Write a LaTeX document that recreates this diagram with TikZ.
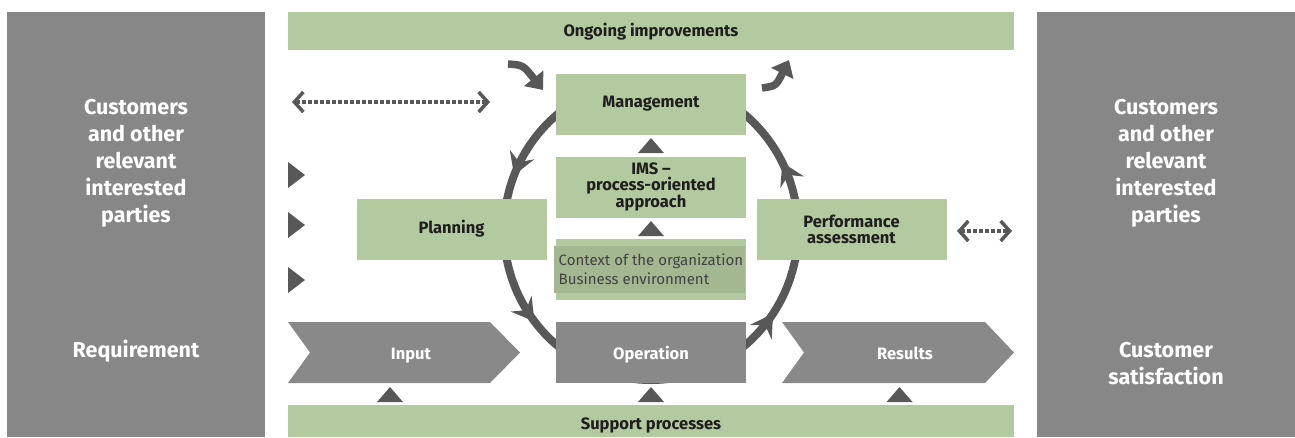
\documentclass[tikz,border=0pt]{standalone}
\usepackage{fontspec}
\setmainfont{Fira Sans}
\usetikzlibrary{arrows.meta,decorations.markings,calc}
\definecolor{panelgray}{HTML}{878787}
\definecolor{flowgray}{HTML}{898989}
\definecolor{leaf}{HTML}{B3C9A0}
\definecolor{leafdark}{HTML}{A3B790}
\definecolor{ink}{HTML}{585858}
\definecolor{txt}{HTML}{1E1E1E}
\tikzset{ringtip/.tip={Stealth[length=22pt,width=26pt,inset=8pt]}}
\begin{document}
\begin{tikzpicture}[x=1pt,y=-1pt,
  panel/.style={fill=panelgray,draw=none},
  panellabel/.style={text=white,font=\fontsize{21.5}{27}\selectfont\bfseries,align=center},
  greenbox/.style={fill=leaf,draw=none,minimum width=190pt,minimum height=61pt,inner sep=0pt,
    text=txt,font=\fontsize{16.5}{16}\selectfont\bfseries,align=center},
  graybox/.style={fill=flowgray,draw=none,minimum width=190pt,minimum height=61pt,inner sep=0pt},
  flowlabel/.style={text=white,font=\fontsize{16.5}{16}\selectfont\bfseries,anchor=base,inner sep=0pt},
  barlabel/.style={text=txt,font=\fontsize{16.5}{16}\selectfont\bfseries},
  uptri/.style={fill=ink},
  ring/.style={draw=ink,line width=8pt},
  dotline/.style={draw=ink,line width=3.5pt,dash pattern=on 3.5pt off 2.5pt,
    {Straight Barb[length=9pt,width=20pt,line width=3.5pt]}-{Straight Barb[length=9pt,width=20pt,line width=3.5pt]}},
  bendarrow/.style={draw=ink,line width=7.5pt,-{Triangle[length=15pt,width=24pt]}}
]
\useasboundingbox (0,0) rectangle (1295,437);

% side panels
\fill[panel] (7,12) rectangle (265,437);
\fill[panel] (1037,12) rectangle (1295,437);
\node[panellabel] (custL) at (136,163) {Customers\\and other\\relevant\\interested\\parties};
\node[panellabel] (req) at (136,351) {Requirement};
\node[panellabel] (custR) at (1166,163) {Customers\\and other\\relevant\\interested\\parties};
\node[panellabel] (sat) at (1166,364) {Customer\\satisfaction};

% top and bottom bars
\fill[leaf] (288,12) rectangle (1014,50);
\node[barlabel] (ongoing) at (651,32) {Ongoing improvements};
\fill[leaf] (288,405) rectangle (1014,437);
\node[barlabel] (support) at (651,425) {Support processes};

% the PDCA ring, running top - left - bottom - right
\draw[ring,postaction={decorate},decoration={markings,
    mark=at position 0.19 with {\arrow[ink]{ringtip}},
    mark=at position 0.355 with {\arrow[ink]{ringtip}},
    mark=at position 0.655 with {\arrow[ink]{ringtip}},
    mark=at position 0.825 with {\arrow[ink]{ringtip}}}]
  (651,80) arc[start angle=270,end angle=-90,x radius=147,y radius=150];

% boxes
\node[greenbox] (mgmt) at (651,104) {Management};
\node[greenbox] (ims) at (651,187) {IMS –\\process-oriented\\approach};
\node[greenbox] (ctx) at (651,269) {};
\fill[leafdark] (554,246) rectangle (745,293);
\node[anchor=west,text=ink!75!black,font=\fontsize{15}{19}\selectfont,align=left,inner sep=0pt]
  (ctxtext) at (558.5,269.5) {Context of the organization\\Business environment};
\node[greenbox] (plan) at (451.5,229) {Planning};
\node[greenbox] (perf) at (851.5,229) {Performance\\assessment};
\node[graybox] (oper) at (651,352.5) {};
\node[flowlabel] (operlabel) at (651,359) {Operation};

% process chevrons
\fill[flowgray] (288,322) -- (490,322) -- (520,352.5) -- (490,383) -- (288,383) -- (310,352.5) -- cycle;
\node[flowlabel] (input) at (411,359) {Input};
\fill[flowgray] (782,322) -- (985,322) -- (1014,352.5) -- (985,383) -- (782,383) -- (804,352.5) -- cycle;
\node[flowlabel] (results) at (905,359) {Results};

% small upward triangles
\coordinate (t1) at (390,402);
\coordinate (t2) at (651,402);
\coordinate (t3) at (899.5,402);
\coordinate (t4) at (651,153);
\coordinate (t5) at (651,236);
\foreach \t in {t1,t2,t3,t4,t5}
  \fill[uptri] ($(\t)+(-13,0)$) -- ($(\t)+(13,0)$) -- ($(\t)+(0,-15)$) -- cycle;

% right-pointing triangles by the left panel
\foreach \y/\n in {175/a,225/b,280/c}
  \fill[uptri] (288,\y-13) coordinate (r\n) -- (305,\y) -- (288,\y+13) -- cycle;

% dotted two-way arrows
\coordinate (dl1) at (292,102);
\coordinate (dl2) at (490,102);
\draw[dotline] (dl1) -- (dl2);
\coordinate (dr1) at (957,231);
\coordinate (dr2) at (1012,231);
\draw[dotline] (dr1) -- (dr2);

% bent arrows entering and leaving management
\coordinate (bi1) at (508,64);
\coordinate (bi2) at (543,90);
\draw[bendarrow] (bi1) .. controls (523,65) .. (bi2);
\coordinate (bo1) at (762,88);
\coordinate (bo2) at (789,60);
\draw[bendarrow] (bo1) .. controls (776,86) .. (bo2);
\end{tikzpicture}
\end{document}
